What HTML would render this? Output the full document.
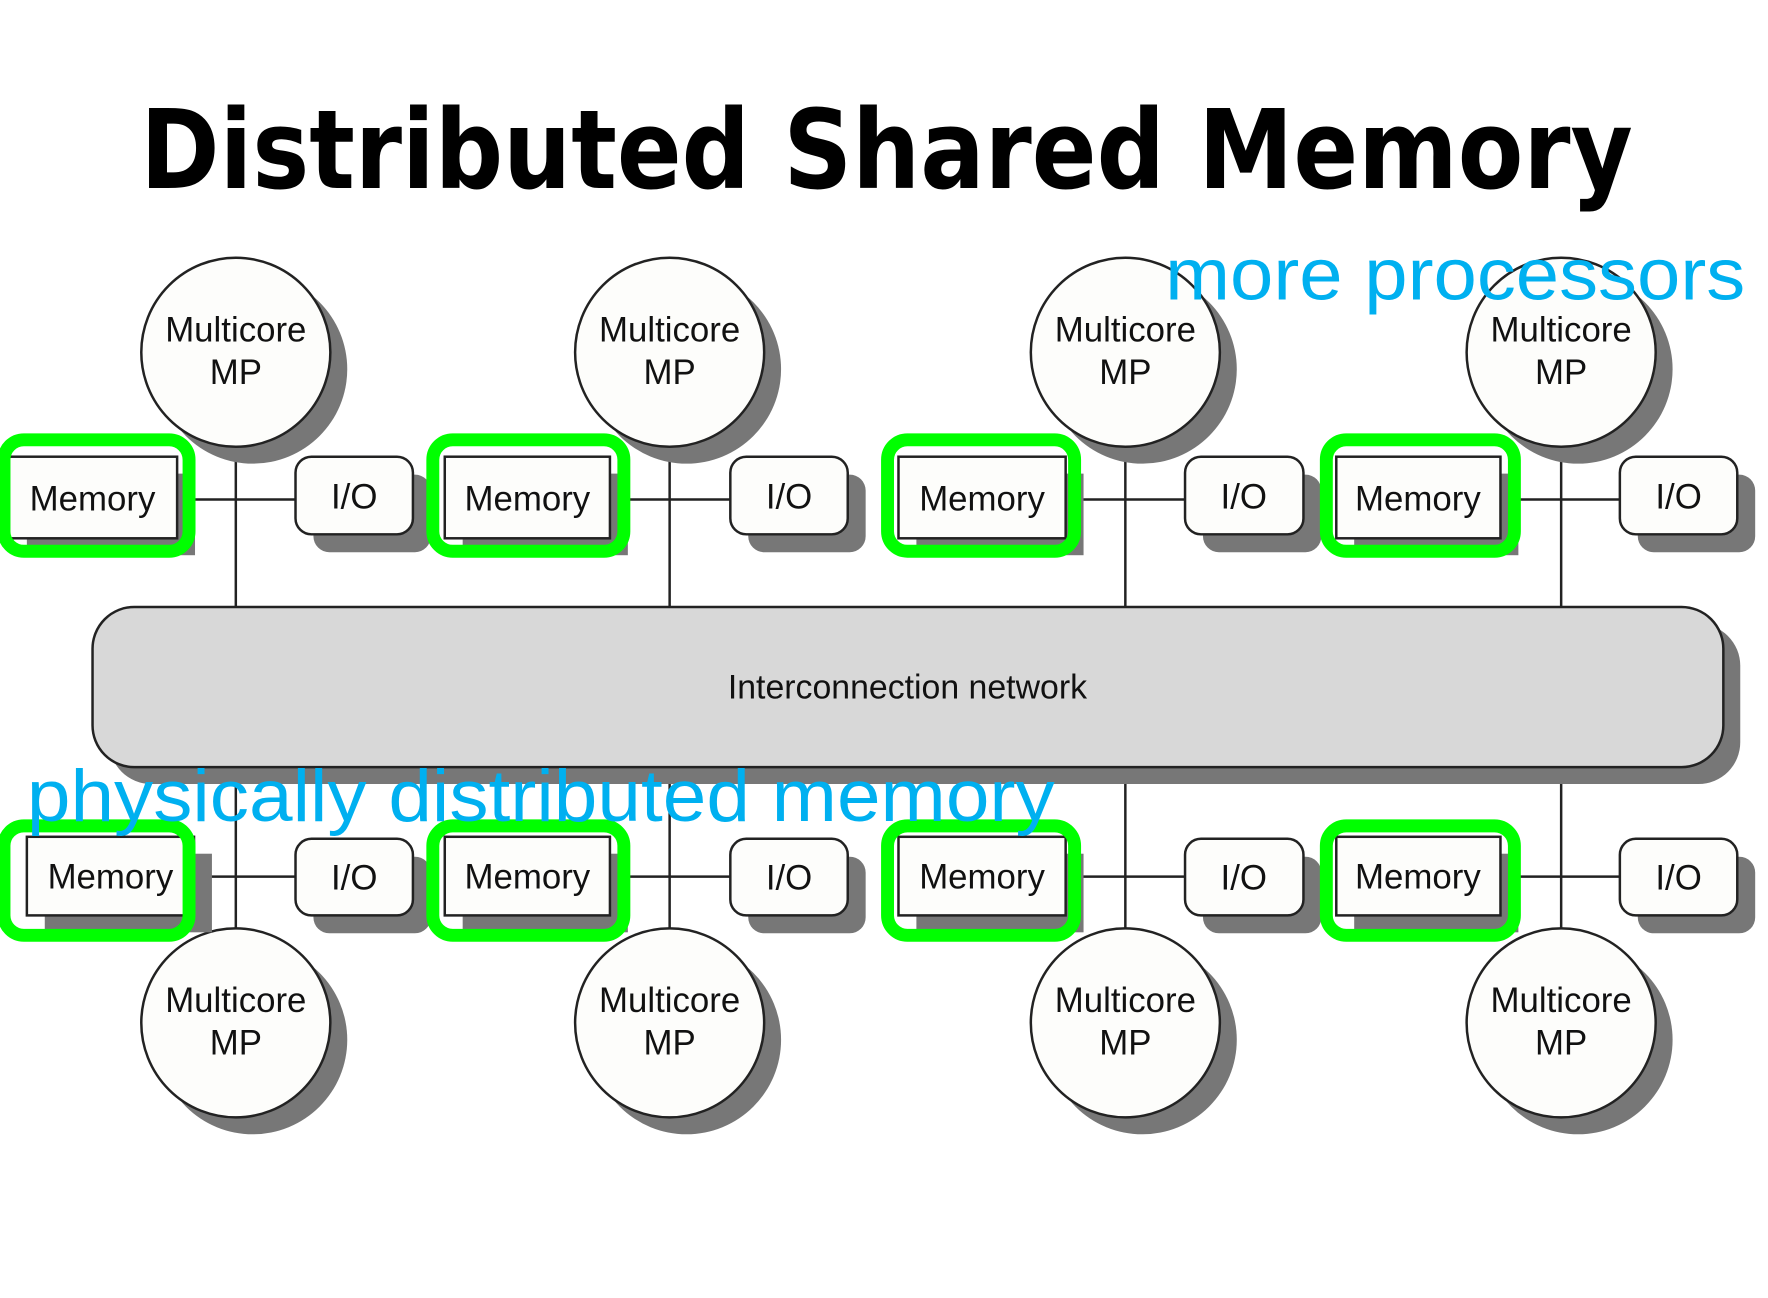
<!DOCTYPE html>
<html><head><meta charset="utf-8"><style>html,body{margin:0;padding:0;background:#fff}svg{display:block}</style></head>
<body>
<svg width="1768" height="1298" viewBox="0 0 1768 1298" xmlns="http://www.w3.org/2000/svg" font-family="Liberation Sans, Arial, sans-serif">
<rect width="1768" height="1298" fill="#fff"/>
<g transform="scale(0.995)">
<text x="141" y="189" font-family="DejaVu Sans, sans-serif" font-weight="bold" font-size="110" textLength="1500" lengthAdjust="spacingAndGlyphs" fill="#000">Distributed Shared Memory</text>

<g stroke="#222" stroke-width="2.5">
  <line x1="237" y1="449" x2="237" y2="610"/><line x1="673" y1="449" x2="673" y2="610"/>
  <line x1="1131" y1="449" x2="1131" y2="610"/><line x1="1569" y1="449" x2="1569" y2="610"/>
  <line x1="237" y1="771" x2="237" y2="933"/><line x1="673" y1="771" x2="673" y2="933"/>
  <line x1="1131" y1="771" x2="1131" y2="933"/><line x1="1569" y1="771" x2="1569" y2="933"/>
  <line x1="178" y1="502" x2="297" y2="502"/><line x1="613" y1="502" x2="734" y2="502"/>
  <line x1="1071" y1="502" x2="1191" y2="502"/><line x1="1508" y1="502" x2="1628" y2="502"/>
  <line x1="195" y1="881" x2="297" y2="881"/><line x1="613" y1="881" x2="734" y2="881"/>
  <line x1="1071" y1="881" x2="1191" y2="881"/><line x1="1508" y1="881" x2="1628" y2="881"/>
</g>

<rect x="110" y="627" width="1639" height="161" rx="42" fill="#777"/>
<rect x="93" y="610" width="1639" height="161" rx="42" fill="#d8d8d8" stroke="#222" stroke-width="2.5"/>
<text x="912" y="702" font-size="34" text-anchor="middle" fill="#111">Interconnection network</text>

<g font-size="35" fill="#111" text-anchor="middle">
<circle cx="254" cy="371" r="95" fill="#777"/><circle cx="237" cy="354" r="95" fill="#fdfdfb" stroke="#222" stroke-width="2.5"/>
<text x="237" y="343">Multicore</text><text x="237" y="386">MP</text>
<circle cx="690" cy="371" r="95" fill="#777"/><circle cx="673" cy="354" r="95" fill="#fdfdfb" stroke="#222" stroke-width="2.5"/>
<text x="673" y="343">Multicore</text><text x="673" y="386">MP</text>
<circle cx="1148" cy="371" r="95" fill="#777"/><circle cx="1131" cy="354" r="95" fill="#fdfdfb" stroke="#222" stroke-width="2.5"/>
<text x="1131" y="343">Multicore</text><text x="1131" y="386">MP</text>
<circle cx="1586" cy="371" r="95" fill="#777"/><circle cx="1569" cy="354" r="95" fill="#fdfdfb" stroke="#222" stroke-width="2.5"/>
<text x="1569" y="343">Multicore</text><text x="1569" y="386">MP</text>

<circle cx="254" cy="1045" r="95" fill="#777"/><circle cx="237" cy="1028" r="95" fill="#fdfdfb" stroke="#222" stroke-width="2.5"/>
<text x="237" y="1017">Multicore</text><text x="237" y="1060">MP</text>
<circle cx="690" cy="1045" r="95" fill="#777"/><circle cx="673" cy="1028" r="95" fill="#fdfdfb" stroke="#222" stroke-width="2.5"/>
<text x="673" y="1017">Multicore</text><text x="673" y="1060">MP</text>
<circle cx="1148" cy="1045" r="95" fill="#777"/><circle cx="1131" cy="1028" r="95" fill="#fdfdfb" stroke="#222" stroke-width="2.5"/>
<text x="1131" y="1017">Multicore</text><text x="1131" y="1060">MP</text>
<circle cx="1586" cy="1045" r="95" fill="#777"/><circle cx="1569" cy="1028" r="95" fill="#fdfdfb" stroke="#222" stroke-width="2.5"/>
<text x="1569" y="1017">Multicore</text><text x="1569" y="1060">MP</text>

<rect x="27" y="476" width="169" height="82" fill="#777"/><rect x="9" y="459" width="169" height="82" fill="#fdfdfb" stroke="#222" stroke-width="2.5"/><text x="93" y="513">Memory</text>
<rect x="465" y="476" width="166" height="82" fill="#777"/><rect x="447" y="459" width="166" height="82" fill="#fdfdfb" stroke="#222" stroke-width="2.5"/><text x="530" y="513">Memory</text>
<rect x="921" y="476" width="168" height="82" fill="#777"/><rect x="903" y="459" width="168" height="82" fill="#fdfdfb" stroke="#222" stroke-width="2.5"/><text x="987" y="513">Memory</text>
<rect x="1361" y="476" width="165" height="82" fill="#777"/><rect x="1343" y="459" width="165" height="82" fill="#fdfdfb" stroke="#222" stroke-width="2.5"/><text x="1425" y="513">Memory</text>
<rect x="45" y="858" width="168" height="79" fill="#777"/><rect x="27" y="841" width="168" height="79" fill="#fdfdfb" stroke="#222" stroke-width="2.5"/><text x="111" y="893">Memory</text>
<rect x="465" y="858" width="166" height="79" fill="#777"/><rect x="447" y="841" width="166" height="79" fill="#fdfdfb" stroke="#222" stroke-width="2.5"/><text x="530" y="893">Memory</text>
<rect x="921" y="858" width="168" height="79" fill="#777"/><rect x="903" y="841" width="168" height="79" fill="#fdfdfb" stroke="#222" stroke-width="2.5"/><text x="987" y="893">Memory</text>
<rect x="1361" y="858" width="165" height="79" fill="#777"/><rect x="1343" y="841" width="165" height="79" fill="#fdfdfb" stroke="#222" stroke-width="2.5"/><text x="1425" y="893">Memory</text>

<rect x="315" y="477" width="118" height="78" rx="16" fill="#777"/><rect x="297" y="459" width="118" height="78" rx="16" fill="#fdfdfb" stroke="#222" stroke-width="2.5"/><text x="356" y="511">I/O</text>
<rect x="752" y="477" width="118" height="78" rx="16" fill="#777"/><rect x="734" y="459" width="118" height="78" rx="16" fill="#fdfdfb" stroke="#222" stroke-width="2.5"/><text x="793" y="511">I/O</text>
<rect x="1209" y="477" width="119" height="78" rx="16" fill="#777"/><rect x="1191" y="459" width="119" height="78" rx="16" fill="#fdfdfb" stroke="#222" stroke-width="2.5"/><text x="1250" y="511">I/O</text>
<rect x="1646" y="477" width="118" height="78" rx="16" fill="#777"/><rect x="1628" y="459" width="118" height="78" rx="16" fill="#fdfdfb" stroke="#222" stroke-width="2.5"/><text x="1687" y="511">I/O</text>
<rect x="315" y="861" width="118" height="77" rx="16" fill="#777"/><rect x="297" y="843" width="118" height="77" rx="16" fill="#fdfdfb" stroke="#222" stroke-width="2.5"/><text x="356" y="894">I/O</text>
<rect x="752" y="861" width="118" height="77" rx="16" fill="#777"/><rect x="734" y="843" width="118" height="77" rx="16" fill="#fdfdfb" stroke="#222" stroke-width="2.5"/><text x="793" y="894">I/O</text>
<rect x="1209" y="861" width="119" height="77" rx="16" fill="#777"/><rect x="1191" y="843" width="119" height="77" rx="16" fill="#fdfdfb" stroke="#222" stroke-width="2.5"/><text x="1250" y="894">I/O</text>
<rect x="1646" y="861" width="118" height="77" rx="16" fill="#777"/><rect x="1628" y="843" width="118" height="77" rx="16" fill="#fdfdfb" stroke="#222" stroke-width="2.5"/><text x="1687" y="894">I/O</text>
</g>

<g fill="none" stroke="#00ff00" stroke-width="13">
<rect x="4" y="442" width="186" height="112" rx="20"/>
<rect x="435" y="442" width="192" height="112" rx="20"/>
<rect x="892" y="442" width="188" height="112" rx="20"/>
<rect x="1333" y="442" width="189" height="112" rx="20"/>
<rect x="4" y="830" width="186" height="110" rx="20"/>
<rect x="435" y="830" width="192" height="110" rx="20"/>
<rect x="892" y="830" width="188" height="110" rx="20"/>
<rect x="1333" y="830" width="189" height="110" rx="20"/>
</g>

<text x="1171" y="301" font-size="74" fill="#00b0f0" textLength="583" lengthAdjust="spacingAndGlyphs">more processors</text>
<text x="27" y="825" font-size="74" fill="#00b0f0" textLength="1033" lengthAdjust="spacingAndGlyphs">physically distributed memory</text>
</g>
</svg>
</body></html>
